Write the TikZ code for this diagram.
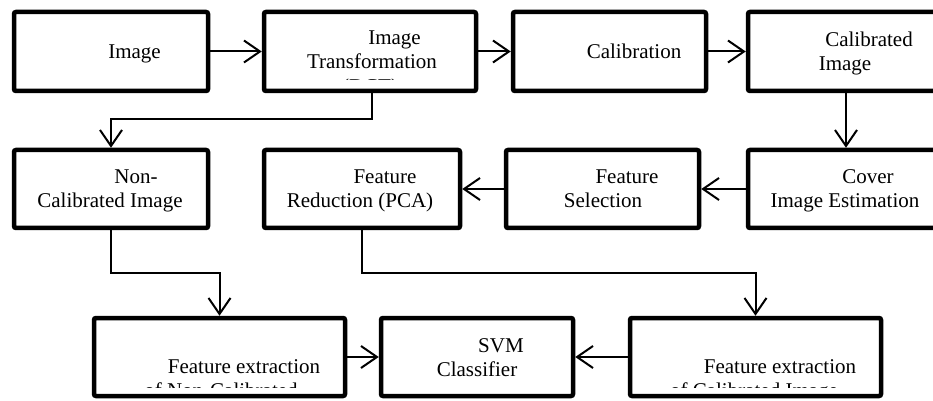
\documentclass[tikz,border=0pt]{standalone}
\usepackage{fontspec}
\setmainfont{Liberation Serif}
\usetikzlibrary{arrows.meta}
\begin{document}
\begin{tikzpicture}[x=0.5pt,y=-0.5pt,
  box/.style 2 args={draw, line width=2.25pt, rounded corners=1pt, inner sep=0pt,
    minimum width=#1*0.5pt, minimum height=#2*0.5pt},
  conn/.style={line width=1pt, -{Straight Barb[length=8pt,width=11pt,line width=1pt]}},
  txt/.style={anchor=base, inner sep=0pt, font=\fontsize{10.5pt}{12.6pt}\selectfont}]
\clip (0,0) rectangle (933,401);
% boxes
\node[box={194}{79}] (A) at (111,51.5) {};
\node[box={212}{79}] (B) at (370,51.5) {};
\node[box={193}{79}] (C) at (609.5,51.5) {};
\node[box={196}{79}] (D) at (846,51.5) {};
\node[box={194}{78}] (E) at (111,189) {};
\node[box={196}{78}] (F) at (362,189) {};
\node[box={193}{78}] (G) at (602.5,189) {};
\node[box={196}{78}] (H) at (846,189) {};
\node[box={251}{78}] (I) at (219.5,357) {};
\node[box={192}{78}] (J) at (477,357) {};
\node[box={251}{78}] (K) at (755.5,357) {};
% texts
\node[txt] (tA) at (134.5,59) {Image};
\node[txt] (tB1) at (394.5,45) {Image};
\node[txt] (tB2) at (372,69) {Transformation};
\begin{scope}
\clip (264,12) rectangle (476,80);
\node[txt] (tB3) at (370,93.5) {(DCT)};
\end{scope}
\node[txt] (tC) at (634,59) {Calibration};
\node[txt] (tD1) at (869,47) {Calibrated};
\node[txt] (tD2) at (845,71) {Image};
\node[txt] (tE1) at (136,184) {Non-};
\node[txt] (tE2) at (110,208) {Calibrated Image};
\node[txt] (tF1) at (385,184) {Feature};
\node[txt] (tF2) at (360,207) {Reduction (PCA)};
\node[txt] (tG1) at (627,184) {Feature};
\node[txt] (tG2) at (603,208) {Selection};
\node[txt] (tH1) at (868,184) {Cover};
\node[txt] (tH2) at (845,208) {Image Estimation};
\node[txt] (tI1) at (244,373) {Feature extraction};
\node[txt] (tJ1) at (501,352) {SVM};
\node[txt] (tJ2) at (477,376) {Classifier};
\node[txt] (tK1) at (780,373) {Feature extraction};
\begin{scope}
\clip (94,318) rectangle (345,387);
\node[txt] (tI2) at (221,397.5) {of Non-Calibrated};
\end{scope}
\begin{scope}
\clip (630,318) rectangle (881,387);
\node[txt] (tK2) at (754,397.5) {of Calibrated Image};
\end{scope}
% connectors
\coordinate (b1) at (372,119);
\coordinate (m1) at (0,273);
\draw[conn] (A) -- (B);
\draw[conn] (B) -- (C);
\draw[conn] (C) -- (D);
\draw[conn] (B.south -| b1) -- (b1) -| (E.north);
\draw[conn] (D) -- (H);
\draw[conn] (H) -- (G);
\draw[conn] (G) -- (F);
\draw[conn] (E.south) -- (E.south |- m1) -| (I.north);
\draw[conn] (F.south) -- (F.south |- m1) -| (K.north);
\draw[conn] (I) -- (J);
\draw[conn] (K) -- (J);
\end{tikzpicture}
\end{document}
